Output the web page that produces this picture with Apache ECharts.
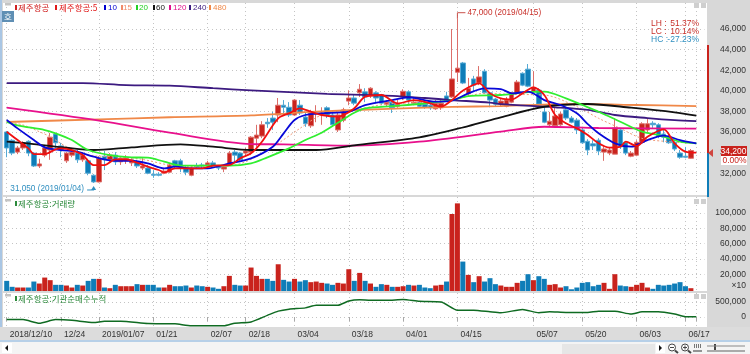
<!DOCTYPE html>
<html>
<head>
<meta charset="utf-8">
<title>제주항공</title>
<script src="https://cdn.jsdelivr.net/npm/echarts@6/dist/echarts.min.js"></script>
<style>
html, body { margin: 0; padding: 0; background: #fff; }
#chart { width: 750px; height: 354px; }
</style>
</head>
<body>
<div id="chart"></div>
<script>
const tickLabels = [[0, '2018/12/10'], [10, '12/24'], [17, '2019/01/07'], [27, '01/21'], [37, '02/07'], [44, '02/18'],
  [53, '03/04'], [63, '03/18'], [73, '04/01'], [83, '04/15'], [97, '05/07'], [106, '05/20'], [116, '06/03'], [125, '06/17'], [127, '']]

const priceTicks = [32000, 34000, 36000, 38000, 40000, 42000, 44000, 46000]
const volumeTicks = [20000, 40000, 60000, 80000, 100000]
const instTicks = [0, 500000]

const open = [36000, 35200, 34050, 34450, 35100, 33950, 32700, 33750, 34250, 35800,
  34650, 33200, 33750, 33950, 33300, 33200, 31800, 31150, 33650, 33300,
  33750, 33100, 33200, 33000, 33100, 32500, 32500, 31900, 31900, 32000,
  32100, 33200, 33200, 32500, 31800, 32700, 32800, 32800, 33000, 32600,
  32400, 32800, 34050, 33950, 33950, 34050, 35400, 35600, 36950, 37350,
  37650, 38600, 38400, 37650, 38600, 37450, 36600, 37750, 37650, 38350,
  37650, 36200, 37150, 39000, 39300, 39800, 39900, 39500, 39800, 39600,
  38700, 38900, 38500, 39400, 39900, 38800, 38900, 38700, 38600, 38250,
  38350, 39500, 39400, 41800, 42700, 39700, 41150, 40750, 41900, 39800,
  39200, 38700, 38500, 38900, 39800, 41700, 42100, 39900, 40050, 37950,
  36700, 36600, 36700, 38150, 37350, 37150, 36200, 35100, 34850, 35200,
  34050, 33950, 33850, 36200, 34950, 33650, 33750, 35000, 36200, 36850,
  36700, 35800, 35500, 35000, 33950, 33650, 33450]
const close = [34450, 33950, 34450, 34950, 33950, 32700, 32900, 34450, 35500, 34950,
  34250, 33950, 34050, 33300, 33750, 32000, 31150, 33450, 33300, 33750,
  33100, 33450, 33450, 33300, 32700, 32700, 32000, 31800, 31800, 32200,
  32800, 32700, 32600, 32100, 32500, 32600, 32700, 33000, 32700, 32500,
  32600, 33950, 33750, 33300, 34150, 35500, 35700, 36700, 36800, 36950,
  38600, 38400, 37650, 39100, 37850, 36800, 37850, 37850, 37850, 37650,
  36700, 37650, 38150, 39300, 38800, 40150, 39400, 40250, 39300, 38800,
  38900, 38350, 38700, 39950, 39100, 38900, 38500, 38400, 38350, 38800,
  38800, 39100, 41150, 42200, 40750, 40250, 40550, 41350, 39800, 39100,
  38700, 39000, 39100, 39800, 40850, 40550, 40450, 40350, 38700, 36950,
  37050, 37550, 37750, 37350, 36950, 36200, 34950, 34250, 34650, 34150,
  34350, 34250, 36400, 34550, 33950, 33950, 35000, 36800, 36800, 36700,
  35600, 35500, 34950, 34350, 33550, 33550, 34200]
const low = [33550, 33750, 33850, 34250, 33650, 32600, 32500, 33550, 33300, 34450,
  33550, 33000, 33550, 33000, 33100, 31800, 31050, 31100, 32300, 33000,
  32800, 32800, 32900, 32700, 32500, 32300, 31900, 31550, 31700, 31900,
  32000, 32500, 32100, 31800, 31700, 32400, 32500, 32600, 32500, 32300,
  32100, 32700, 33100, 33100, 33750, 33750, 34550, 35400, 36400, 36200,
  36950, 37650, 37450, 37550, 37650, 36500, 36400, 36950, 36700, 37350,
  36500, 36000, 36950, 38600, 38600, 39400, 38900, 39300, 38800, 38600,
  38500, 37850, 38350, 39100, 38700, 38600, 38350, 38250, 38150, 38150,
  38150, 38900, 39300, 40850, 40650, 39500, 39950, 40550, 39700, 38400,
  38500, 38500, 38400, 38800, 39700, 40450, 40350, 39800, 38500, 36850,
  36500, 36400, 36600, 37150, 36850, 35800, 34850, 33750, 34250, 33750,
  33200, 33750, 33850, 34350, 33750, 33550, 33650, 34950, 36000, 36400,
  35400, 35000, 34850, 34150, 33400, 33450, 33400]
const high = [36100, 35300, 34650, 35100, 35200, 34050, 33400, 34750, 35900, 35900,
  34950, 34050, 34350, 34250, 34050, 33400, 31900, 33650, 34150, 33950,
  34050, 33650, 33750, 33450, 33300, 33450, 32800, 32300, 32100, 32500,
  33000, 33300, 33400, 32800, 32700, 33000, 33000, 33200, 33200, 32800,
  32800, 34150, 34250, 34050, 34450, 35600, 36700, 37050, 37350, 37950,
  39300, 39100, 38900, 39200, 39100, 37850, 38150, 38600, 38400, 38500,
  37850, 37850, 38350, 40050, 39600, 40650, 40250, 40350, 39950, 39700,
  39100, 39000, 39100, 40150, 40050, 39300, 39100, 39000, 39000, 39100,
  39100, 39900, 46000, 47000, 42800, 41250, 41450, 42400, 42100, 39900,
  39300, 39300, 39400, 39900, 41050, 41800, 42600, 41900, 40250, 38500,
  37950, 38400, 37950, 38350, 37550, 37350, 36500, 35300, 35200, 35400,
  34650, 34550, 37350, 36400, 35100, 34150, 35200, 36950, 37250, 37050,
  36850, 36200, 35800, 35200, 34250, 34550, 34350]

const volume = [11300, 3500, 2600, 2600, 2600, 10400, 7800, 15600, 12200, 6100,
  6100, 5200, 2600, 6100, 5200, 11300, 13900, 13900, 2600, 1700,
  6100, 4300, 4300, 4300, 7000, 6100, 6100, 6100, 2600, 2600,
  6100, 4300, 4300, 5200, 2600, 5200, 4300, 3500, 2600, 900,
  4300, 17800, 6100, 5200, 5200, 28700, 17800, 13900, 13900, 11300,
  33000, 12600, 10400, 13900, 10400, 12200, 9600, 10400, 8700, 7800,
  6100, 8700, 7800, 26500, 11300, 21700, 11300, 7800, 3500, 7000,
  6100, 3500, 3500, 4300, 6100, 5200, 6100, 2600, 1700, 5200,
  6100, 10400, 98700, 112600, 36500, 19100, 9600, 17400, 10400, 14800,
  7000, 5200, 3500, 3500, 8700, 11300, 20000, 12200, 17400, 13900,
  6100, 7000, 2600, 4300, 300, 2600, 8700, 9600, 4300, 6100,
  8700, 900, 20000, 5200, 4300, 3500, 6100, 8700, 2600, 900,
  6100, 5200, 6100, 7800, 9600, 4300, 1700]

const ma5 = [[0, 36030], [2, 35220], [4, 34410], [5, 33860], [7, 33860], [9, 34310], [10, 34410], [12, 34250], [14, 33760], [16, 32790],
  [18, 32790], [20, 33340], [22, 33340], [24, 33020], [26, 32630], [28, 32310], [29, 32080], [31, 32470], [33, 32470], [36, 32470],
  [38, 32730], [41, 32790], [43, 33440], [45, 33930], [47, 35060], [50, 37330], [52, 37810], [54, 38300], [56, 37970], [58, 37650],
  [61, 37490], [64, 38300], [66, 39430], [69, 39590], [72, 38780], [75, 39100], [78, 38780], [80, 38460], [82, 39100], [84, 40010],
  [87, 40720], [89, 39750], [91, 39270], [93, 39170], [95, 39750], [97, 40340], [99, 39590], [101, 37650], [103, 36840], [105, 36350],
  [107, 35710], [109, 34900], [111, 34480], [113, 34570], [114, 35060], [116, 34640], [118, 35540], [121, 36260], [123, 34900], [125, 34090], [127, 33990]]
const ma10 = [[0, 37160], [2, 36350], [5, 35220], [7, 34510], [10, 34250], [13, 34090], [16, 33600], [20, 33210], [23, 33210], [26, 32950],
  [29, 32470], [31, 32630], [34, 32470], [37, 32470], [41, 32950], [45, 33440], [49, 34570], [51, 35870], [53, 37160], [55, 37650],
  [58, 37810], [63, 37970], [66, 38620], [71, 39100], [74, 39360], [79, 38940], [82, 39040], [85, 39750], [88, 40240], [91, 40170],
  [93, 39750], [96, 39920], [99, 39100], [102, 38620], [105, 37810], [107, 36770], [109, 35870], [112, 34900], [115, 34570], [118, 35220],
  [121, 35640], [124, 35220], [127, 34900]]
const ma15 = [[0, 37000], [3, 36680], [6, 36030], [8, 35540], [11, 34570], [15, 33760], [20, 33600], [25, 33340], [30, 32790], [36, 32630],
  [42, 32790], [46, 33600], [50, 34900], [54, 36350], [58, 37650], [64, 38130], [70, 38720], [76, 38850], [82, 39100], [88, 39750],
  [93, 39650], [99, 39590], [105, 38460], [109, 37330], [113, 36350], [117, 35380], [122, 35060], [127, 34900]]
const ma20 = [[0, 36970], [2, 36645], [7, 36190], [9, 35870], [12, 35220], [15, 34250], [19, 33760], [23, 33540], [26, 33505], [29, 33120],
  [32, 32730], [36, 32730], [41, 32730], [45, 32950], [48, 33540], [52, 34410], [55, 35220], [58, 35930], [61, 36900], [64, 37875],
  [66, 38300], [71, 38520], [76, 38720], [82, 39100], [85, 39490], [91, 39590], [95, 39820], [99, 39920], [103, 39270], [106, 38620],
  [109, 37970], [113, 37000], [117, 36030], [120, 35710], [124, 35060], [127, 34900]]
const ma60 = [[0, 35060], [5, 34830], [11, 34470], [16, 34250], [23, 34510], [32, 34800], [38, 34570], [45, 34250], [57, 34250], [64, 34710],
  [76, 35480], [85, 36580], [91, 37430], [99, 38450], [107, 38720], [115, 38360], [123, 37910], [127, 37580]]
const ma120 = [[0, 38360], [17, 37100], [30, 35930], [45, 34830], [51, 34800], [63, 34670], [76, 35060], [91, 36030], [99, 36510], [109, 36390], [127, 36320]]
const ma240 = [[0, 40750], [14, 40750], [22, 40550], [30, 40500], [38, 40250], [45, 40050], [59, 39700], [69, 39550], [77, 39300], [82, 39100],
  [89, 38850], [91, 38700], [101, 38400], [107, 38150], [112, 37650], [118, 37350], [123, 37150], [127, 37050]]
const ma480 = [[0, 36970], [17, 37230], [30, 37430], [45, 37620], [57, 37970], [69, 38230], [82, 38430], [91, 38520], [105, 38720], [116, 38620], [127, 38520]]

const instNet = [[0, -87000], [3, -87000], [6, -206500], [9, -87000], [12, -108700], [16, -184800], [18, -141300], [21, -141300], [26, -217400], [31, -228300],
  [34, -293500], [40, -293500], [42, -206500], [45, -163000], [48, 54000], [50, 195700], [52, 260900], [55, 304400], [57, 391300], [61, 391300],
  [63, 532600], [65, 576100], [67, 554400], [70, 554400], [73, 587000], [76, 521800], [80, 500000], [83, 228300], [86, 228300], [89, 173900],
  [91, 141300], [95, 250000], [98, 141300], [100, 173900], [103, 152200], [107, 152200], [109, 195700], [112, 195700], [115, 97800], [117, 173900],
  [120, 173900], [123, 97800], [125, 10900], [127, 10900]]

const RED = '#c9231d'
const BLUE = '#0f7db8'
const LATIN = '"Liberation Sans", sans-serif'
const KOREAN = '"Noto Sans CJK KR", sans-serif'

const categories = []
for (let i = 0; i < 129; i++) categories.push('')
tickLabels.forEach(t => { categories[t[0]] = t[1] })
const isTick = (i) => tickLabels.some(t => t[0] === i)

const candles = open.map((o, i) => [o, close[i], low[i], high[i]])
const volumeBars = volume.map((v, i) => ({
  value: v,
  itemStyle: {color: close[i] >= open[i] ? RED : BLUE}
}))

const rect = (x, y, w, h, fill, z = 50) => ({type: 'rect', z, silent: true, shape: {x, y, width: w, height: h}, style: {fill}})
const text = (s, x, y, fill, opts = {}) => ({
  type: 'text', z: 60, silent: true,
  style: {
    text: s, x, y, fill,
    font: `${opts.size || 8.5}px ${opts.family || LATIN}`,
    align: opts.align || 'left',
    verticalAlign: 'middle'
  }
})
const line = (x1, y1, x2, y2, stroke, lineWidth = 1) => ({
  type: 'line', z: 60, silent: true,
  shape: {x1, y1, x2, y2}, style: {stroke, lineWidth}
})
const poly = (points, fill) => ({type: 'polygon', z: 60, silent: true, shape: {points}, style: {fill}})

// small header of a panel: grey tab, marker, title, window buttons
const panelHeader = (y, title, color) => [
  rect(5, y + 1, 6, 2.5, '#c4c4c4'),
  rect(15, y + 3, 2, 5, color),
  text(title, 18, y + 5.5, color, {size: 8.5, family: KOREAN}),
  rect(694, y + 1, 5, 5, '#cfcfcf'),
  rect(701, y + 1, 5, 5, '#cfcfcf')
]

const legendItems = [
  [55, 59, '제주항공:5', '#e01818'], [104, 108, '10', '#0000d0'], [121, 123, '15', '#f08a6a'], [136, 139, '20', '#22d022'],
  [153, 156, '60', '#111111'], [169, 173, '120', '#e0108c'], [189, 193, '240', '#3c1a80'], [209, 213, '480', '#f08848']
]

const chrome = [
  // panel backgrounds and the date band sit under the series and axes
  rect(0, 0, 750, 354, '#d8d8d8', -10),
  rect(0, 0, 2, 341, '#a9c6e4', -9),
  rect(3, 3, 704, 192, '#ffffff', -9),
  rect(3, 197, 704, 94, '#ffffff', -9),
  rect(3, 293, 704, 34, '#ffffff', -9),
  rect(0, 327, 750, 13, '#dcdcdc', -9),
  rect(0, 340, 750, 2, '#b7d0e8', -9),
  rect(0, 342, 750, 12, '#f4f4f4', -9),

  ...panelHeader(2, '제주항공', '#d02020'),
  ...legendItems.flatMap(([mx, tx, s, c]) => [
    rect(mx, 5, 2, 5, c),
    text(s, tx, 7.5, c, {size: tx === 59 ? 8.5 : 8, family: tx === 59 ? KOREAN : LATIN})
  ]),
  rect(2, 11, 12, 11, '#5f8fb4'),
  text('호', 8, 16.5, '#ffffff', {size: 8.5, family: KOREAN, align: 'center'}),
  ...panelHeader(198, '제주항공:거래량', '#2c8a3c'),
  ...panelHeader(293, '제주항공:기관순매수누적', '#2c8a3c'),

  // LH LC HC box
  text('LH :', 651, 23.5, '#c8302a'),
  text('51.37%', 699, 23.5, '#c8302a', {align: 'right'}),
  text('LC :', 651, 31.5, '#c8302a'),
  text('10.14%', 699, 31.5, '#c8302a', {align: 'right'}),
  text('HC :', 651, 40, '#2f8fc0'),
  text('-27.23%', 699, 40, '#2f8fc0', {align: 'right'}),

  // range bar next to the price axis
  rect(707, 45, 2, 108, '#c9231d'),
  rect(707, 153, 2, 44, '#0f7db8'),
  poly([[708, 153], [713, 149], [713, 157]], '#d0453f'),
  rect(721, 146, 26, 10, '#c9231d'),
  text('34,200', 746.5, 151.5, '#ffffff', {align: 'right'}),
  rect(721, 156, 26, 9, '#ffffff'),
  text('0.00%', 746.5, 160.5, '#c9231d', {align: 'right'}),
  text('×10', 746, 286, '#333333', {align: 'right'}),

  // scrollbar strip
  rect(2, 343, 10, 10, '#ffffff'),
  poly([[5, 348], [8, 345], [8, 351]], '#111111'),
  rect(562, 344, 93, 10, '#e6e6e6'),
  rect(656, 343, 9, 10, '#ffffff'),
  poly([[662, 348], [659, 345], [659, 351]], '#111111'),
  {type: 'circle', z: 60, silent: true, shape: {cx: 672, cy: 347.5, r: 3.5}, style: {fill: '#fff', stroke: '#444'}},
  line(670, 347.5, 674, 347.5, '#444'),
  line(675, 350.5, 678, 353, '#444', 2),
  {type: 'circle', z: 60, silent: true, shape: {cx: 685, cy: 347.5, r: 3.5}, style: {fill: '#fff', stroke: '#444'}},
  line(683, 347.5, 687, 347.5, '#444'),
  line(685, 345.5, 685, 349.5, '#444'),
  line(688, 350.5, 691, 353, '#444', 2),
  rect(694, 344, 1, 4, '#777'), rect(696, 344, 1, 4, '#777'), rect(698, 344, 1, 4, '#777'), rect(700, 344, 1, 4, '#777'),
  line(693, 351, 702, 351, '#333'),
  line(707, 346, 745, 346, '#888'),
  rect(714, 344, 2, 6, '#444'),
  line(707, 351, 745, 351, '#aaaaaa', 2)
]

const maLine = (name, data, color, width, extra = {}) => ({
  name, type: 'line', data,
  xAxisIndex: 0, yAxisIndex: 0,
  showSymbol: false, smooth: 0.3, silent: true,
  lineStyle: {color, width},
  ...extra
})

const dotted = {show: true, alignWithLabel: true, interval: (i) => isTick(i), lineStyle: {color: '#c4c4c4', type: [1, 3], width: 1}}
const hDotted = {show: true, lineStyle: {color: '#c4c4c4', type: [1, 3], width: 1}}
const valueLabel = {
  inside: false, align: 'right', margin: 41.5, color: '#333', fontFamily: LATIN, fontSize: 8.5,
  formatter: (v) => Number(v).toLocaleString('en-US')
}

const xAxisBase = {
  type: 'category', data: categories, boundaryGap: true,
  axisLine: {show: false}, axisTick: {show: false}, axisLabel: {show: false}, splitLine: dotted
}

const chart = echarts.init(document.getElementById('chart'))
chart.setOption({
  animation: false,
  graphic: {elements: chrome},
  grid: [
    {left: 4, width: 700.47, top: 3, height: 192},
    {left: 4, width: 700.47, top: 197, height: 94},
    {left: 4, width: 700.47, top: 293, height: 34}
  ],
  xAxis: [
    {...xAxisBase, gridIndex: 0},
    {...xAxisBase, gridIndex: 1},
    {
      ...xAxisBase, gridIndex: 2,
      axisTick: {show: true, alignWithLabel: true, interval: (i) => isTick(i), length: 4, lineStyle: {color: '#a8a8a8'}},
      axisLabel: {
        show: true, interval: (i) => isTick(i), align: 'left', margin: 3, padding: [0, 0, 0, 3],
        color: '#333', fontFamily: LATIN, fontSize: 8.5
      }
    }
  ],
  yAxis: [
    {
      type: 'value', gridIndex: 0, position: 'right', min: 29883, max: 48524, scale: true,
      axisLine: {show: false}, axisTick: {show: false, customValues: priceTicks},
      axisLabel: {...valueLabel, customValues: priceTicks}, splitLine: hDotted
    },
    {
      type: 'value', gridIndex: 1, position: 'right', min: -1960, max: 120915, startValue: -1960,
      axisLine: {show: false}, axisTick: {show: false, customValues: volumeTicks},
      axisLabel: {...valueLabel, customValues: volumeTicks}, splitLine: hDotted
    },
    {
      type: 'value', gridIndex: 2, position: 'right', min: -333000, max: 800000,
      axisLine: {show: false}, axisTick: {show: false, customValues: instTicks},
      axisLabel: {...valueLabel, customValues: instTicks}, splitLine: hDotted
    }
  ],
  series: [
    {
      name: '제주항공', type: 'candlestick', data: candles, xAxisIndex: 0, yAxisIndex: 0,
      barWidth: 5, silent: true, z: 2,
      itemStyle: {color: RED, color0: BLUE, borderColor: '#dc6f6a', borderColor0: '#55a9d4', borderWidth: 1},
      markPoint: {
        silent: true,
        data: [
          {
            coord: [83, 47000], symbol: 'rect', symbolSize: [8, 1], symbolOffset: [4, -6],
            itemStyle: {color: '#c9504a'},
            label: {
              show: true, position: 'right', distance: 2, formatter: '47,000 (2019/04/15)',
              color: '#c8302a', fontFamily: LATIN, fontSize: 8.2
            }
          },
          {coord: [83, 47000], symbol: 'rect', symbolSize: [1, 6], symbolOffset: [0, -3], itemStyle: {color: '#c9504a'}, label: {show: false}},
          {
            coord: [16, 31050], symbol: 'triangle', symbolSize: [5, 4], symbolOffset: [0, 5],
            itemStyle: {color: '#2f8fc0'},
            label: {
              show: true, position: 'left', distance: 7, offset: [0, 1], formatter: '31,050 (2019/01/04)',
              color: '#2f8fc0', fontFamily: LATIN, fontSize: 8.2
            }
          },
          {coord: [16, 31050], symbol: 'rect', symbolSize: [7, 1], symbolOffset: [-3, 7], itemStyle: {color: '#2f8fc0'}, label: {show: false}}
        ]
      }
    },
    maLine('15', ma15, '#f09a7a', 1, {z: 3, lineStyle: {color: '#f09a7a', width: 1, type: [2, 2]}}),
    maLine('480', ma480, '#f08848', 1.8, {z: 3}),
    maLine('240', ma240, '#3c1a80', 1.8, {z: 3}),
    maLine('120', ma120, '#e8108c', 1.8, {z: 3}),
    maLine('60', ma60, '#111111', 1.8, {z: 3}),
    maLine('20', ma20, '#30ee30', 1.8, {z: 4}),
    maLine('10', ma10, '#0808d8', 1.8, {z: 5}),
    maLine('5', ma5, '#f01010', 1.8, {z: 6}),
    {
      name: '거래량', type: 'bar', data: volumeBars, xAxisIndex: 1, yAxisIndex: 1,
      barWidth: 5, silent: true
    },
    {
      name: '기관순매수누적', type: 'line', data: instNet, xAxisIndex: 2, yAxisIndex: 2,
      showSymbol: false, smooth: 0.2, silent: true, lineStyle: {color: '#0f6b22', width: 1.5}
    }
  ]
})
</script>
</body>
</html>
